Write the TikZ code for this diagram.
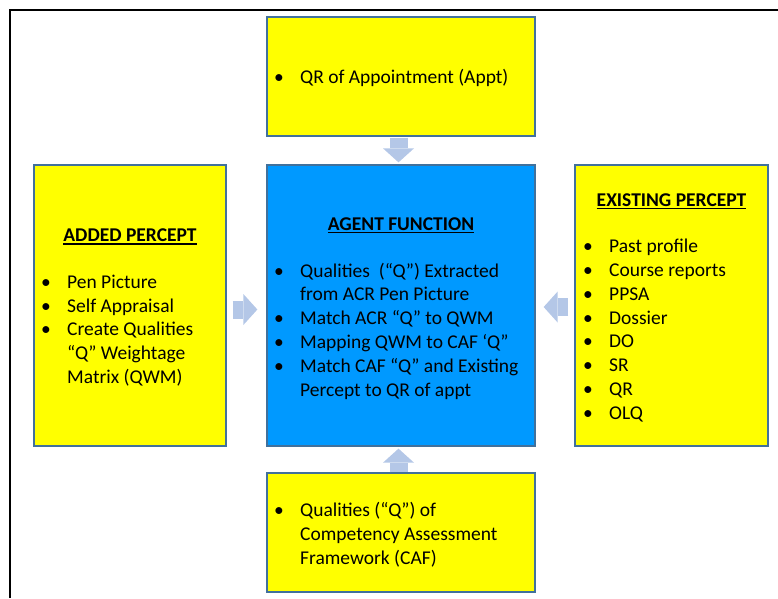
\documentclass[tikz,border=0pt]{standalone}
\usepackage{fontspec}
\setmainfont{Carlito}
\usetikzlibrary{arrows.meta}

\definecolor{boxline}{HTML}{41719C}
\definecolor{percept}{HTML}{FFFF00}
\definecolor{agent}{HTML}{0099FF}
\definecolor{flowfill}{HTML}{B4C7E7}

\newcommand\bodyfont{\fontsize{19.5}{23.8}\selectfont}
% underlined heading with a heavier rule than \underline gives
\newcommand\headline[1]{\setbox0\hbox{#1}\rlap{\rule[-3pt]{\wd0}{1.3pt}}\box0}
% bullet list: bullet column plus text column, first row on the baseline
\newenvironment{blist}{\begin{tabular}[t]{@{}p{26pt}@{}l@{}}}{\end{tabular}}

\begin{document}
\begin{tikzpicture}[x=1pt,y=-1pt,
  panel/.style={draw=boxline, line width=1.3pt, inner sep=0pt},
  heading/.style={anchor=base, inner sep=0pt, font=\bodyfont\bfseries},
  listtext/.style={anchor=base west, inner sep=0pt, font=\bodyfont},
  flow/.style={draw=flowfill, line width=18pt,
    -{Triangle[width=31pt,length=14pt,line width=0pt]}}]

\useasboundingbox (0,0) rectangle (778,598);

% outer frame
\draw[line width=1.5pt] (10,598) -- (10,10) -- (778,10);

% panels
\node[panel, fill=percept, minimum width=268pt, minimum height=119pt] (appt) at (401,76.5) {};
\node[panel, fill=percept, minimum width=192pt, minimum height=281pt] (added) at (130,305.5) {};
\node[panel, fill=agent,   minimum width=268pt, minimum height=281pt] (agentfn) at (401,305.5) {};
\node[panel, fill=percept, minimum width=193pt, minimum height=281pt] (existing) at (671.5,305.5) {};
\node[panel, fill=percept, minimum width=268pt, minimum height=119pt] (caf) at (401,532.5) {};

% headings
\node[heading] (agenthead) at (401,230) {\headline{AGENT FUNCTION}};
\node[heading] (addedhead) at (130,241.7) {\headline{ADDED PERCEPT}};
\node[heading] (existhead) at (671.5,206) {\headline{EXISTING PERCEPT}};

% lists
\node[listtext] (apptlist) at (274,83.5) {\begin{blist}
  • & QR of Appointment (Appt)
\end{blist}};

\node[listtext] (agentlist) at (274,277) {\begin{blist}
  • & Qualities\ \ (“Q”) Extracted\\
    & from ACR Pen Picture\\
  • & Match ACR “Q” to QWM\\
  • & Mapping QWM to CAF ‘Q”\\
  • & Match CAF “Q” and Existing\\
    & Percept to QR of appt
\end{blist}};

\node[listtext] (addedlist) at (41,288.3) {\begin{blist}
  • & Pen Picture\\
  • & Self Appraisal\\
  • & Create Qualities\\
    & “Q” Weightage\\
    & Matrix (QWM)
\end{blist}};

\node[listtext] (existlist) at (583,252.7) {\begin{blist}
  • & Past profile\\
  • & Course reports\\
  • & PPSA\\
  • & Dossier\\
  • & DO\\
  • & SR\\
  • & QR\\
  • & OLQ
\end{blist}};

\node[listtext] (caflist) at (274,516.7) {\begin{blist}
  • & Qualities (“Q”) of\\
    & Competency Assessment\\
    & Framework (CAF)
\end{blist}};

% block arrows into the agent function
\draw[flow, shorten <=1pt, shorten >=2pt]
  ([xshift=-2.5pt]appt.south) -- ([xshift=-2.5pt]agentfn.north);
\draw[flow, shorten <=6pt, shorten >=9pt]
  ([yshift=-4pt]added.east) -- ([yshift=-4pt]agentfn.west);
\draw[flow, shorten <=6pt, shorten >=8pt]
  ([yshift=-1.5pt]existing.west) -- ([yshift=-1.5pt]agentfn.east);
\draw[flow, shorten <=0pt, shorten >=2pt]
  ([xshift=-2.5pt]caf.north) -- ([xshift=-2.5pt]agentfn.south);
\end{tikzpicture}
\end{document}
